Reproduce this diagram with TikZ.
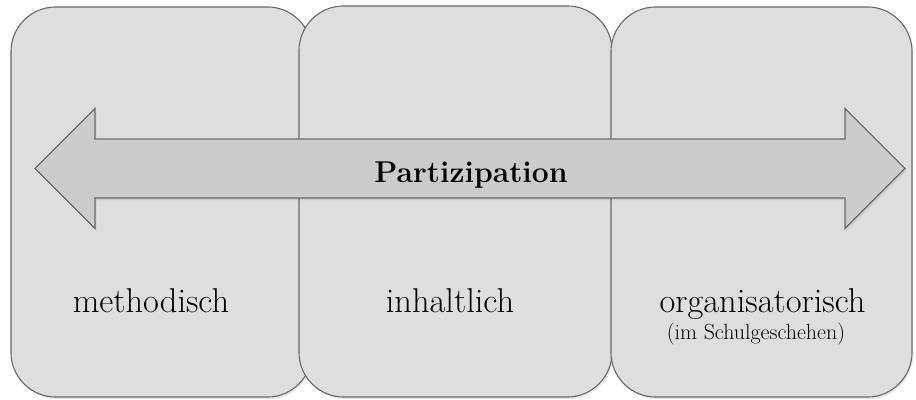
\documentclass[tikz,border=0pt]{standalone}
\usepackage{tikz}
\usetikzlibrary{shapes,arrows,backgrounds,calc,shadows}
\definecolor{boxgray}{HTML}{DEDEDE}
\definecolor{arrowgray}{HTML}{CBCBCB}
\definecolor{linegray}{HTML}{6A6A6A}

\begin{document}
\begin{tikzpicture}[x=0.025cm,y=-0.025cm,
  feld/.style={draw=linegray,fill=boxgray,line width=.8pt,rounded corners=1.12cm,
    minimum width=7.525cm,minimum height=9.75cm,
    drop shadow={opacity=.18,shadow xshift=1pt,shadow yshift=-1.5pt}},
  wort/.style={font=\fontsize{24.5}{28}\selectfont,anchor=base,inner sep=0pt},
  zusatz/.style={font=\fontsize{15.6}{18}\selectfont,anchor=base,inner sep=0pt}]
\useasboundingbox (0,0) rectangle (916,400);
\node[feld] (meth) at (161.5,202) {};
\node[feld,minimum width=7.825cm,minimum height=9.775cm] (inh) at (455.5,201.5) {};
\node[feld] (org) at (761.5,202) {};
\draw[fill=arrowgray,draw=linegray,line width=.8pt,
  drop shadow={opacity=.18,shadow xshift=1pt,shadow yshift=-1.5pt}]
  (35,168.5) -- (95,108.5) -- (95,139) -- (845,139) -- (845,108.5) -- (905,168.5)
  -- (845,228.5) -- (845,198) -- (95,198) -- (95,228.5) -- cycle;
\node[wort,font=\fontsize{21.4}{25}\selectfont\bfseries] (part) at (471,183) {Partizipation};
\node[wort] (tmeth) at (151,313) {methodisch};
\node[wort] (tinh) at (450,313) {inhaltlich};
\node[wort] (torg) at (762.5,313) {organisatorisch};
\node[zusatz] (tschul) at (756,340) {(im Schulgeschehen)};
\end{tikzpicture}
\end{document}
